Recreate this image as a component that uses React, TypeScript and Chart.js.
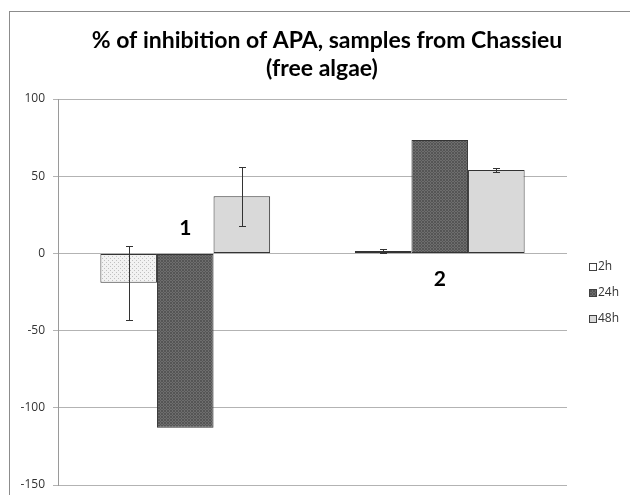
import React, { useEffect, useRef } from "react";
import { Chart, registerables } from "chart.js";

Chart.register(...registerables);

const categories = ["1", "2"];
const seriesLabels = ["2h", "24h", "48h"];
const values2h = [-19, 1.5];
const values24h = [-113, 73.5];
const values48h = [37, 54];
const err2h = [24, 1.5];
const err24h = [0, 0];
const err48h = [19, 1.5];
const yMin = -150;
const yMax = 100;
const yStep = 50;
const titleLines = ["% of inhibition of APA, samples from Chassieu", "(free algae)"];

function makePattern(kind: string): CanvasPattern | string {
  const c = document.createElement("canvas");
  const ctx = c.getContext("2d");
  if (!ctx) return "#ccc";
  if (kind === "dots") {
    c.width = 4;
    c.height = 4;
    ctx.fillStyle = "#f2f2f2";
    ctx.fillRect(0, 0, 4, 4);
    ctx.fillStyle = "#c0c0c0";
    ctx.fillRect(0, 0, 1, 1);
    ctx.fillRect(2, 2, 1, 1);
  } else {
    c.width = 3;
    c.height = 3;
    ctx.fillStyle = "#6e6e6e";
    ctx.fillRect(0, 0, 3, 3);
    ctx.fillStyle = "#555555";
    ctx.fillRect(0, 0, 1, 1);
    ctx.fillRect(1, 1, 1, 1);
    ctx.fillRect(2, 2, 1, 1);
    ctx.fillRect(2, 0, 1, 1);
    ctx.fillRect(0, 2, 1, 1);
  }
  return ctx.createPattern(c, "repeat") || "#ccc";
}

const errors = [err2h, err24h, err48h];

const decorPlugin = {
  id: "decor",
  beforeDraw(chart: any) {
    const { ctx } = chart;
    ctx.save();
    ctx.fillStyle = "#ffffff";
    ctx.fillRect(0, 0, chart.width, chart.height);
    ctx.strokeStyle = "#8c8c8c";
    ctx.lineWidth = 1;
    ctx.strokeRect(9.5, 11.5, 800, 800);
    ctx.restore();
  },
  afterDatasetsDraw(chart: any) {
    const { ctx } = chart;
    const yScale = chart.scales.y;
    const xScale = chart.scales.x;
    ctx.save();
    ctx.strokeStyle = "#333333";
    ctx.lineWidth = 1;
    chart.data.datasets.forEach((ds: any, di: number) => {
      const meta = chart.getDatasetMeta(di);
      meta.data.forEach((bar: any, i: number) => {
        const e = errors[di][i];
        if (!e) return;
        const v = ds.data[i];
        const x = Math.round(bar.x) + 0.5;
        const yTop = Math.round(yScale.getPixelForValue(v + e)) + 0.5;
        const yBot = Math.round(yScale.getPixelForValue(v - e)) + 0.5;
        ctx.beginPath();
        ctx.moveTo(x, yTop);
        ctx.lineTo(x, yBot);
        ctx.moveTo(x - 3.5, yTop);
        ctx.lineTo(x + 3.5, yTop);
        ctx.moveTo(x - 3.5, yBot);
        ctx.lineTo(x + 3.5, yBot);
        ctx.stroke();
      });
    });
    const zero = yScale.getPixelForValue(0);
    const offsets = [-25, 26];
    ctx.fillStyle = "#000000";
    ctx.font = "bold 21px Lato";
    ctx.textAlign = "center";
    ctx.textBaseline = "middle";
    categories.forEach((c, i) => {
      ctx.fillText(c, xScale.getPixelForValue(i), zero + offsets[i]);
    });
    ctx.restore();
  },
  afterDraw(chart: any) {
    const { ctx } = chart;
    ctx.save();
    ctx.fillStyle = "#000000";
    ctx.font = "bold 23px Lato";
    ctx.textAlign = "center";
    ctx.textBaseline = "alphabetic";
    ctx.fillText(titleLines[0], 327, 48);
    ctx.fillText(titleLines[1], 322, 76);
    ctx.font = "12px 'Open Sans'";
    ctx.textAlign = "left";
    ctx.textBaseline = "middle";
    chart.data.datasets.forEach((ds: any, di: number) => {
      const cy = 267 + di * 26;
      ctx.fillStyle = di === 0 ? "#ffffff" : ds.backgroundColor;
      ctx.fillRect(589, cy - 4, 8, 8);
      ctx.strokeStyle = "#404040";
      ctx.lineWidth = 1;
      ctx.strokeRect(589.5, cy - 3.5, 7, 7);
      ctx.fillStyle = "#333333";
      ctx.fillText(ds.label, 598, cy);
    });
    ctx.restore();
  },
};

export default function App() {
  const ref = useRef<HTMLCanvasElement | null>(null);
  useEffect(() => {
    if (!ref.current) return;
    const fills = [makePattern("dots"), makePattern("hatch"), "#d9d9d9"];
    const data = [values2h, values24h, values48h];
    const chart = new Chart(ref.current, {
      type: "bar",
      data: {
        labels: categories,
        datasets: seriesLabels.map((l, i) => ({
          label: l,
          data: data[i],
          backgroundColor: fills[i] as any,
          borderColor: "#333333",
          borderWidth: 1,
          borderSkipped: false,
          categoryPercentage: 0.667,
          barPercentage: 1,
        })),
      },
      options: {
        responsive: false,
        maintainAspectRatio: false,
        animation: false,
        layout: { padding: { left: 8, right: 63, top: 99, bottom: 10 } },
        plugins: {
          legend: { display: false },
          title: { display: false },
          tooltip: { enabled: false },
        },
        scales: {
          x: {
            display: false,
            grid: { display: false },
          },
          y: {
            min: yMin,
            max: yMax,
            afterFit(scale: any) {
              scale.width = 50;
              scale.paddingTop = 0;
              scale.paddingBottom = 0;
            },
            ticks: {
              stepSize: yStep,
              padding: 8,
              color: "#333333",
              font: { family: "'Open Sans'", size: 12 },
            },
            grid: {
              color: "#b3b3b3",
              tickLength: 5,
              drawTicks: true,
            },
            border: { display: true, color: "#9a9a9a" },
          },
        },
      },
      plugins: [decorPlugin],
    });
    return () => chart.destroy();
  }, []);
  return (
    <div style={{ position: "fixed", left: 0, top: 0, width: 630, height: 495, background: "#fff" }}>
      <canvas ref={ref} width={630} height={495} />
    </div>
  );
}
